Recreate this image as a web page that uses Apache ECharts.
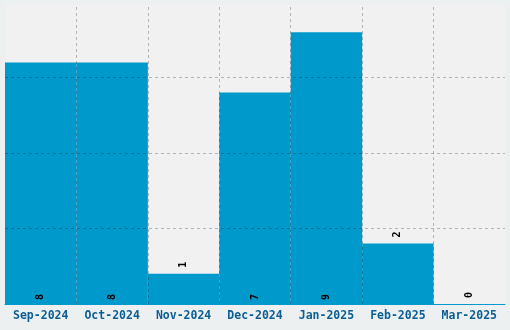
<!DOCTYPE html>
<html><head><meta charset="utf-8">
<script src="https://cdn.jsdelivr.net/npm/echarts@6/dist/echarts.min.js"></script>
<style>html,body{margin:0;padding:0;background:#edf0f1;}#c{width:510px;height:330px;}</style>
</head><body><div id="c"></div>
<script>
var categories = ['Sep-2024','Oct-2024','Nov-2024','Dec-2024','Jan-2025','Feb-2025','Mar-2025'];
var values = [8, 8, 1, 7, 9, 2, 0];
var yGridValues = [2.5, 5, 7.5];

var chart = echarts.init(document.getElementById('c'), null, {renderer:'canvas'});
var maxV = Math.max.apply(null, values);
var grey = 'rgba(0,0,0,0.25)';
var dashStyle = {color: grey, type: [3, 3], width: 1};

var data = values.map(function(v){
  var inside = v >= 3;
  return {value: v, label: {position: inside ? 'insideBottom' : 'top', distance: inside ? 4 : 6}};
});
var boundaries = [];
for (var i = 1; i < categories.length; i++) boundaries.push({xAxis: i});

chart.setOption({
  backgroundColor: '#edf0f1',
  animation: false,
  grid: {left: 5, right: 5, top: 5, bottom: 26, show: true, backgroundColor: '#f1f1f1', borderWidth: 0},
  xAxis: [{
    type: 'category', data: categories,
    axisLine: {show: true, lineStyle: {color: '#0099cc', width: 1}},
    axisTick: {show: false},
    axisLabel: {interval: 0, color: '#0b5e94', fontFamily: 'DejaVu Sans Mono', fontWeight: 'bold', fontSize: 11.5, margin: 6},
    splitLine: {show: false}
  }, {
    type: 'value', min: 0, max: categories.length, show: false, splitLine: {show: false}
  }],
  yAxis: {
    type: 'value', min: 0, max: maxV * 1.1, interval: 2.5,
    axisLine: {show: false}, axisTick: {show: false}, axisLabel: {show: false},
    splitLine: {show: false}
  },
  series: [{
    type: 'bar', data: data, barWidth: '100%', barCategoryGap: 0,
    itemStyle: {color: '#0099cc'},
    label: {show: true, rotate: 90, align: 'left', verticalAlign: 'middle', color: '#000',
      fontFamily: 'DejaVu Sans Mono', fontWeight: 'bold', fontSize: 10},
    markLine: {silent: true, symbol: 'none', label: {show: false}, lineStyle: dashStyle,
      data: yGridValues.map(function(y){ return {yAxis: y}; })}
  }, {
    type: 'scatter', xAxisIndex: 1, data: [],
    markLine: {silent: true, symbol: 'none', label: {show: false}, lineStyle: dashStyle, data: boundaries}
  }]
});
</script></body></html>
